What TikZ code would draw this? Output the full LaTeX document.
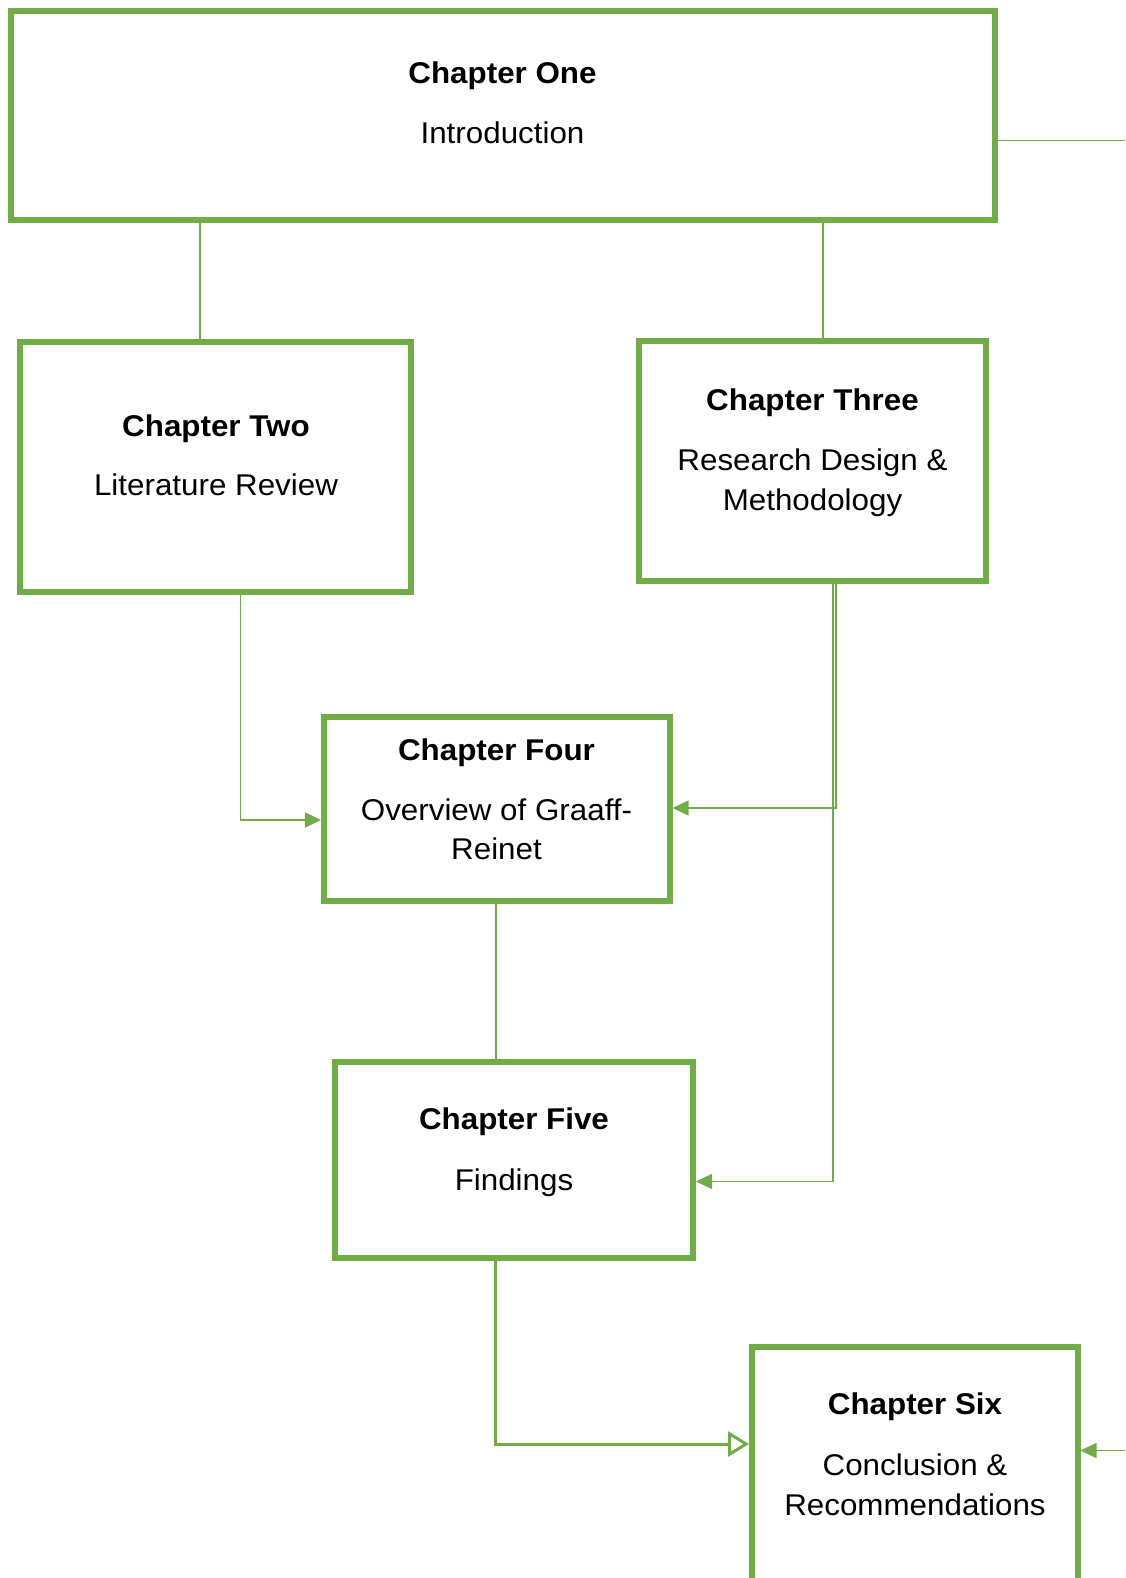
\documentclass[tikz,border=0pt]{standalone}
\usepackage{fontspec}
\setmainfont{Liberation Sans}[FakeStretch=1.045]
\usetikzlibrary{arrows.meta}
\definecolor{boxgreen}{HTML}{70AD47}

\begin{document}
\begin{tikzpicture}[x=1pt,y=-1pt,
  chap/.style={draw=boxgreen, line width=6pt, inner sep=0pt, rectangle},
  link/.style={draw=boxgreen, line width=1.5pt},
  heavylink/.style={draw=boxgreen, line width=3pt},
  tip/.style={-{Triangle[length=16pt,width=15pt]}},
  opentip/.style={-{Triangle[open,length=21pt,width=25pt]}},
  title/.style={anchor=base, inner sep=0pt, font=\fontsize{30}{36}\selectfont\bfseries},
  sub/.style={anchor=base, inner sep=0pt, font=\fontsize{30}{36}\selectfont},
]
\useasboundingbox (0,0) rectangle (1125,1578);
\clip (0,0) rectangle (1125,1578);

% chapter boxes
\node[chap, minimum width=983.5pt, minimum height=209pt] (c1) at (502.75,115.5) {};
\node[chap, minimum width=391pt,   minimum height=250pt] (c2) at (215.5,467) {};
\node[chap, minimum width=347pt,   minimum height=240pt] (c3) at (812,461) {};
\node[chap, minimum width=345.5pt, minimum height=184pt] (c4) at (496.75,809) {};
\node[chap, minimum width=358pt,   minimum height=196pt] (c5) at (514,1160) {};
\node[chap, minimum width=325.5pt, minimum height=400pt] (c6) at (914.75,1547) {};

% box texts
\node[title] (t1) at (502.5,84)  {Chapter One};
\node[sub]   (s1) at (502.5,144) {Introduction};
\node[title] (t2) at (216,436)   {Chapter Two};
\node[sub]   (s2) at (216,495)   {Literature Review};
\node[title] (t3) at (812.5,410) {Chapter Three};
\node[sub]   (s3a) at (812.5,470) {Research Design \&};
\node[sub]   (s3b) at (812.5,510) {Methodology};
\node[title] (t4) at (496.5,760) {Chapter Four};
\node[sub]   (s4a) at (496.5,820) {Overview of Graaff-};
\node[sub]   (s4b) at (496.5,859) {Reinet};
\node[title] (t5) at (514,1129)  {Chapter Five};
\node[sub]   (s5) at (514,1190)  {Findings};
\node[title] (t6) at (915,1414)  {Chapter Six};
\node[sub]   (s6a) at (915,1475) {Conclusion \&};
\node[sub]   (s6b) at (915,1515) {Recommendations};

% connector columns and rows
\coordinate (xa) at (200,0);
\coordinate (xb) at (823,0);
\coordinate (xc) at (240.5,0);
\coordinate (xd) at (836,0);
\coordinate (xe) at (833,0);
\coordinate (xf) at (496,0);
\coordinate (xg) at (495.5,0);
\coordinate (y24) at (0,820);
\coordinate (y34) at (0,808);
\coordinate (y35) at (0,1181.5);
\coordinate (y56) at (0,1444);
\coordinate (outR1) at (1125,140.5);
\coordinate (outR6) at (1125,1450.5);

% connectors
\draw[link] (xa |- c1.south) -- (xa |- c2.north);
\draw[link] (xb |- c1.south) -- (xb |- c3.north);
\draw[link] (c1.east |- outR1) -- (outR1);
\draw[link,tip] (xc |- c2.south) |- (c4.west |- y24);
\draw[link,tip] (xd |- c3.south) |- (c4.east |- y34);
\draw[link,tip] (xe |- c3.south) |- (c5.east |- y35);
\draw[link] (xf |- c4.south) -- (xf |- c5.north);
\draw[heavylink,opentip] (xg |- c5.south) |- (c6.west |- y56);
\draw[link,tip] (outR6) -- (c6.east |- outR6);
\end{tikzpicture}
\end{document}
